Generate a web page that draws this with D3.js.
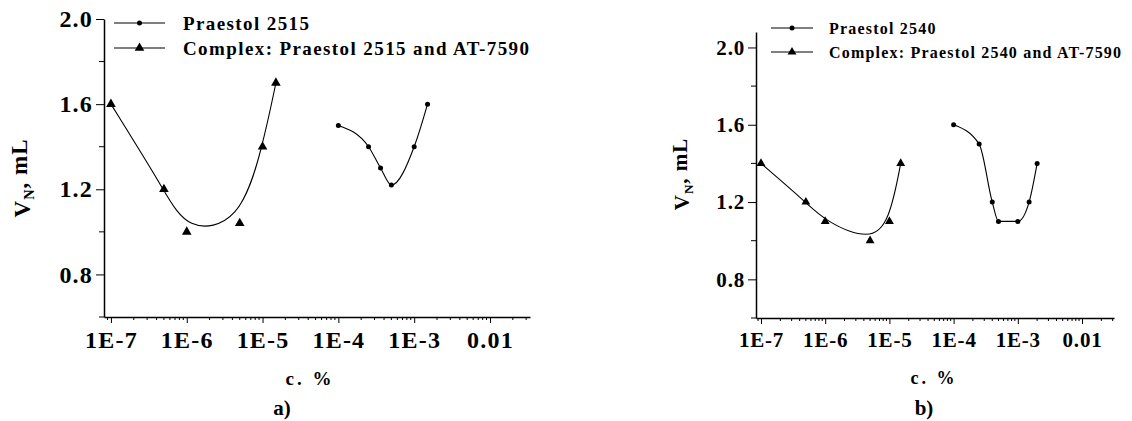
<!DOCTYPE html>
<html>
<head>
<meta charset="utf-8">
<script src="https://cdn.jsdelivr.net/npm/d3@7"></script>
<style>
  body { margin: 0; background: #fff; }
  svg text { font-family: "Liberation Serif", "Times New Roman", serif; font-weight: bold; fill: #000; }
</style>
</head>
<body>
<svg id="chart" width="1132" height="421"></svg>
<script>

let tick_values_x = [1e-7, 1e-6, 1e-5, 1e-4, 1e-3, 1e-2]
let tick_labels_x = ["1E-7", "1E-6", "1E-5", "1E-4", "1E-3", "0.01"]
let tick_values_y = [0.8, 1.2, 1.6, 2.0]
let minor_values_y = [0.6, 1.0, 1.4, 1.8]

// panel a
let a_praestol_c = [1e-4, 2.5e-4, 3.6e-4, 5e-4, 1e-3, 1.5e-3]
let a_praestol_v = [1.5, 1.4, 1.3, 1.22, 1.4, 1.6]
let a_complex_c = [1e-7, 5e-7, 1e-6, 5e-6, 1e-5, 1.5e-5]
let a_complex_v = [1.6, 1.2, 1.0, 1.04, 1.4, 1.7]

// panel b
let b_praestol_c = [1e-4, 2.5e-4, 4e-4, 5e-4, 1e-3, 1.5e-3, 2e-3]
let b_praestol_v = [1.6, 1.5, 1.2, 1.1, 1.1, 1.2, 1.4]
let b_complex_c = [1e-7, 5e-7, 1e-6, 5e-6, 1e-5, 1.5e-5]
let b_complex_v = [1.4, 1.2, 1.1, 1.0, 1.1, 1.4]

let legend_a = ["Praestol 2515", "Complex: Praestol 2515 and AT-7590"]
let legend_b = ["Praestol 2540", "Complex: Praestol 2540 and AT-7590"]

let svg = d3.select('#chart')

function zip(c, v) {
  return c.map((d, i) => ({c: d, v: v[i]}))
}

function drawPanel(p) {

  let g = svg.append('g')

  let x = d3.scaleLog().domain(p.xdom).range(p.xr)
  let y = d3.scaleLinear().domain(p.ydom).range(p.yr)

  // minor x ticks 2..9 of every decade inside the domain
  let minor_x = []
  for (let e = -8; e <= -2; e++) {
    for (let m = 2; m <= 9; m++) {
      let val = m * Math.pow(10, e)
      if (val >= p.xdom[0] && val <= p.xdom[1]) minor_x.push(val)
    }
  }

  let xAxis = d3.axisBottom(x)
    .tickValues(tick_values_x)
    .tickFormat((d, i) => tick_labels_x[i])
    .tickSizeInner(6).tickSizeOuter(0).tickPadding(p.xpad)

  let gx = g.append('g')
    .attr('transform', 'translate(0,' + p.yr[0] + ')')
    .call(xAxis)

  gx.selectAll('.minor')
    .data(minor_x)
    .join('line')
    .attr('class', 'minor')
    .attr('x1', d => x(d)).attr('x2', d => x(d))
    .attr('y1', 0).attr('y2', 3)
    .attr('stroke', '#000')

  gx.selectAll('text')
    .style('font-size', p.tickfont + 'px')
    .style('letter-spacing', p.tickls + 'px')

  let yAxis = d3.axisLeft(y)
    .tickValues(tick_values_y)
    .tickFormat(d3.format('.1f'))
    .tickSizeInner(8).tickSizeOuter(0).tickPadding(3)

  let gy = g.append('g')
    .attr('transform', 'translate(' + p.xr[0] + ',0)')
    .call(yAxis)

  gy.selectAll('.ymin')
    .data(minor_values_y)
    .join('line')
    .attr('class', 'ymin')
    .attr('x1', -5).attr('x2', 0)
    .attr('y1', d => y(d)).attr('y2', d => y(d))
    .attr('stroke', '#000')

  gy.selectAll('text')
    .style('font-size', p.tickfont + 'px')
    .style('letter-spacing', p.tickls + 'px')

  g.selectAll('.domain').attr('stroke', '#000').attr('stroke-width', 1.5)
  g.selectAll('.tick line').attr('stroke', '#000')

  let line_complex = d3.line()
    .x(d => x(d.c)).y(d => y(d.v))
    .curve(d3.curveBasis)

  let line_praestol = d3.line()
    .x(d => x(d.c)).y(d => y(d.v))
    .curve(d3.curveMonotoneX)

  g.append('path')
    .datum(p.complex)
    .attr('d', line_complex)
    .attr('fill', 'none').attr('stroke', '#000').attr('stroke-width', 1.1)

  g.append('path')
    .datum(p.praestol)
    .attr('d', line_praestol)
    .attr('fill', 'none').attr('stroke', '#000').attr('stroke-width', 1.1)

  let tri = d3.symbol().type(d3.symbolTriangle).size(p.trisize)

  g.selectAll('.tri')
    .data(p.complex)
    .join('path')
    .attr('class', 'tri')
    .attr('transform', d => 'translate(' + x(d.c) + ',' + y(d.v) + ')')
    .attr('d', tri)
    .attr('fill', '#000')

  g.selectAll('.dot')
    .data(p.praestol)
    .join('circle')
    .attr('class', 'dot')
    .attr('cx', d => x(d.c)).attr('cy', d => y(d.v))
    .attr('r', 2.5)
    .attr('fill', '#000')

  // legend
  p.legend.forEach((name, i) => {
    let ly = p.legy[i]
    g.append('line')
      .attr('x1', p.legx[0]).attr('x2', p.legx[1])
      .attr('y1', ly).attr('y2', ly)
      .attr('stroke', '#000').attr('stroke-width', 1.2)
    let mx = (p.legx[0] + p.legx[1]) / 2
    if (i == 0) {
      g.append('circle').attr('cx', mx).attr('cy', ly).attr('r', 2.5).attr('fill', '#000')
    } else {
      g.append('path').attr('transform', 'translate(' + mx + ',' + ly + ')').attr('d', tri).attr('fill', '#000')
    }
    g.append('text')
      .attr('x', p.legtext).attr('y', ly)
      .attr('dy', '0.35em')
      .style('font-size', p.legfont + 'px')
      .style('letter-spacing', p.legls + 'px')
      .text(name)
  })

  // y title
  let yt = g.append('text')
    .attr('transform', 'translate(' + p.ytitle[0] + ',' + p.ytitle[1] + ') rotate(-90)')
    .attr('text-anchor', 'middle')
    .attr('dy', '0.35em')
    .style('font-size', p.titlefont + 'px')
    .style('letter-spacing', '1px')
  yt.append('tspan').text('V')
  yt.append('tspan').attr('dy', '0.3em').style('font-size', (p.titlefont * 0.62) + 'px').text('N')
  yt.append('tspan').attr('dy', '-0.3em').text(', mL')

  g.append('text')
    .attr('x', p.xtitle[0]).attr('y', p.xtitle[1])
    .attr('text-anchor', 'middle').attr('dy', '0.35em')
    .style('font-size', p.xtitlefont + 'px')
    .style('letter-spacing', '3px')
    .text('c. %')

  g.append('text')
    .attr('x', p.tag[0]).attr('y', p.tag[1])
    .attr('text-anchor', 'middle').attr('dy', '0.35em')
    .style('font-size', '21px')
    .text(p.tagtext)
}

drawPanel({
  xdom: [8.1e-8, 0.0337], xr: [104, 530],
  ydom: [0.6, 2.0], yr: [317, 19],
  praestol: zip(a_praestol_c, a_praestol_v),
  complex: zip(a_complex_c, a_complex_v),
  legend: legend_a, legx: [114, 165], legy: [23, 48], legtext: 183, legfont: 19, legls: 1.4,
  tickfont: 24, tickls: 1.2, xpad: 8,
  trisize: 40,
  ytitle: [22, 178], titlefont: 23,
  xtitle: [310, 378], xtitlefont: 19,
  tag: [282, 408], tagtext: 'a)'
})

drawPanel({
  xdom: [8.36e-8, 0.0315], xr: [756, 1114],
  ydom: [0.6, 2.08], yr: [318, 32],
  praestol: zip(b_praestol_c, b_praestol_v),
  complex: zip(b_complex_c, b_complex_v),
  legend: legend_b, legx: [771, 813], legy: [28, 52], legtext: 829, legfont: 16, legls: 1.2,
  tickfont: 21, tickls: 0.8, xpad: 8,
  trisize: 34,
  ytitle: [682, 174], titlefont: 21,
  xtitle: [934, 378], xtitlefont: 18,
  tag: [924, 408], tagtext: 'b)'
})

</script>
</body>
</html>
